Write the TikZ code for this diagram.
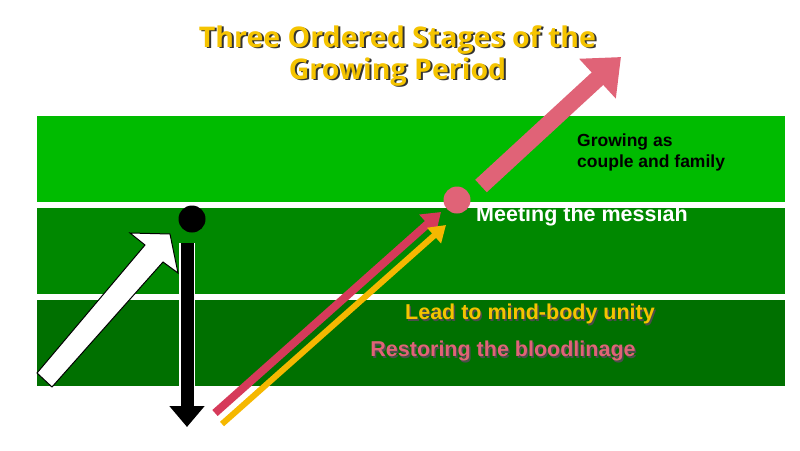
\documentclass[tikz,border=0pt]{standalone}
\usepackage{fontspec}
\setmainfont{Liberation Sans}
\newfontfamily\titlefont{Open Sans}
\usetikzlibrary{arrows.meta,calc}
\definecolor{g1}{HTML}{00BB00}
\definecolor{g2}{HTML}{008800}
\definecolor{g3}{HTML}{007000}
\definecolor{gold}{HTML}{F5C400}
\definecolor{crim}{HTML}{D63A5A}
\definecolor{pinkc}{HTML}{E06377}
\definecolor{ylw}{HTML}{F5B800}
\tikzset{
  band/.style={fill=#1, draw=none},
  lbl/.style={font=\bfseries\fontsize{21.5}{25}\selectfont, inner sep=0pt},
  shad/.style={lbl, text=black!70},
}
\begin{document}
\begin{tikzpicture}[x=1pt,y=-1pt]
\useasboundingbox (0,0) rectangle (800,450);
\fill[white] (0,0) rectangle (800,450);
\fill[band=g1] (37,116) rectangle (785,202);
\fill[band=g2] (37,208) rectangle (785,294);
\fill[band=g3] (37,300) rectangle (785,386);
% title
\foreach \t/\y in {{Three Ordered Stages of the}/40, {Growing Period}/72}{
  \node[font=\titlefont\bfseries\fontsize{28.5}{32}\selectfont, text=black!80] at (399.5,\y+1.5) {\t};
  \node[font=\titlefont\bfseries\fontsize{28.5}{32}\selectfont, text=gold] (title\y) at (397.5,\y) {\t};
}
% white block arrow
\draw[fill=white, draw=black, line width=1pt]
  (37,373) -- (145,245) -- (130,233) -- (170,234) -- (178,273) -- (163,262) -- (52,387) -- cycle;
% black dot and arrow
\node[circle, fill=black, minimum size=27pt, inner sep=0pt] (bdot) at (192,219) {};
\coordinate (bs) at (187,243);
\coordinate (be) at (187,427);
\draw[white, line width=16pt] (bs) -- (187,406);
\draw[black, line width=13pt, -{Triangle[length=21pt,width=34pt]}] (bs) -- (be);
% pink dot
\node[circle, fill=pinkc, minimum size=27pt, inner sep=0pt] (pdot) at (457,200) {};
% crimson and yellow arrows
\coordinate (cs) at (215,413);
\coordinate (ce) at (441,212);
\coordinate (ys) at (222,424);
\coordinate (ye) at (446,225);
\draw[crim, line width=8pt, -{Triangle[length=18pt,width=24pt]}] (cs) -- (ce);
\draw[ylw, line width=6pt, -{Triangle[length=16pt,width=20pt]}] (ys) -- (ye);
% big pink arrow
\coordinate (ps) at (481,186);
\coordinate (pe) at (621,57);
\draw[pinkc, line width=17pt, -{Triangle[length=32pt,width=52pt]}] (ps) -- (pe);
% texts
\node[font=\bfseries\fontsize{17.5}{21}\selectfont, align=left, anchor=north west, inner sep=0pt] (grow) at (577,134) {Growing as\\couple and family};
\node[lbl, text=white, anchor=west] (meet) at (476,216) {Meeting the messiah};
\node[shad] at (531.5,315.5) {Lead to mind-body unity};
\node[lbl, text=gold] (lead) at (530,314) {Lead to mind-body unity};
\node[shad] at (504.5,352.5) {Restoring the bloodlinage};
\node[lbl, text=pinkc] (rest) at (503,351) {Restoring the bloodlinage};
\end{tikzpicture}
\end{document}
